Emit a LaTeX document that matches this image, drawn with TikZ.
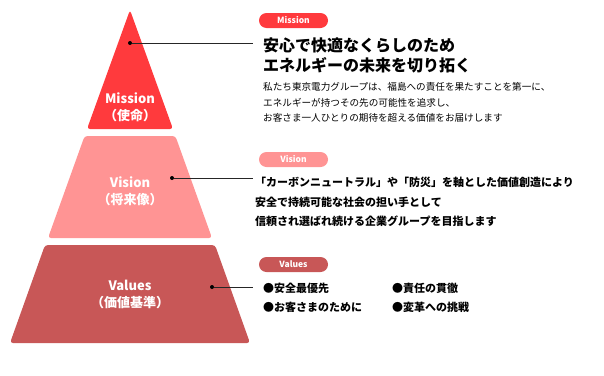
\documentclass[tikz,border=0pt]{standalone}
\usepackage{fontspec}
\setmainfont{Noto Sans CJK JP}
\usetikzlibrary{positioning}
\definecolor{missionred}{HTML}{FF3A3D}
\definecolor{visionpink}{HTML}{FF9494}
\definecolor{valuesred}{HTML}{C85757}
\tikzset{
  tier/.style={rounded corners=3pt},
  tierlabel/.style={text=white, font=\bfseries\fontsize{13}{17}\selectfont, align=center, inner sep=0pt},
  pill/.style={rounded corners=7.5pt, minimum width=69pt, minimum height=15pt, inner sep=0pt, text=white, font=\bfseries\fontsize{8.5}{9}\selectfont},
  dot/.style={circle, fill=black, inner sep=0pt, minimum size=4pt},
  leader/.style={line width=0.9pt, black!85},
  line/.style={anchor=west, inner sep=0pt},
}
\begin{document}
\begin{tikzpicture}[x=1pt,y=-1pt]
\useasboundingbox (0,0) rectangle (604,375);
% pyramid
\fill[missionred, tier] (87,129) -- (130,10) -- (173,129) -- cycle;
\fill[visionpink, tier] (84.6,136) -- (175.4,136) -- (212,238) -- (48,238) -- cycle;
\fill[valuesred, tier] (45,245) -- (215,245) -- (250,343) -- (10,343) -- cycle;
\node[tierlabel] (mission) at (130,107) {Mission\\（使命）};
\node[tierlabel] (vision) at (130,191) {Vision\\（将来像）};
\node[tierlabel] (values) at (130,294) {Values\\（価値基準）};
% dots and leaders
\node[dot] (mdot) at (130,43) {};
\node[dot] (vdot) at (172,178) {};
\node[dot] (udot) at (212,287) {};
\coordinate (mend) at (253,43);
\coordinate (vend) at (253,178);
\coordinate (uend) at (253,287);
\draw[leader] (mdot) -- (mend);
\draw[leader] (vdot) -- (vend);
\draw[leader] (udot) -- (uend);
% labels
\node[pill, fill=missionred] (mpill) at (293.5,20.5) {Mission};
\node[pill, fill=visionpink] (vpill) at (293.5,159.5) {Vision};
\node[pill, fill=valuesred] (upill) at (293.5,264.5) {Values};
% mission text
\begin{scope}[font=\bfseries\fontsize{16}{18}\selectfont]
\node[line] (m1) at (263,45) {安心で快適なくらしのため};
\node[line] (m2) at (263,65) {エネルギーの未来を切り拓く};
\end{scope}
\begin{scope}[font=\fontsize{9.6}{11}\selectfont]
\node[line] (m3) at (263,87) {私たち東京電力グループは、福島への責任を果たすことを第一に、};
\node[line] (m4) at (263,102.5) {エネルギーが持つその先の可能性を追求し、};
\node[line] (m5) at (263,118) {お客さま一人ひとりの期待を超える価値をお届けします};
\end{scope}
% vision text
\begin{scope}[font=\bfseries\fontsize{11}{13}\selectfont]
\node[line] (v1) at (255,182) {「カーボンニュートラル」や「防災」を軸とした価値創造により};
\node[line] (v2) at (255,202) {安全で持続可能な社会の担い手として};
\node[line] (v3) at (255,221) {信頼され選ばれ続ける企業グループを目指します};
\end{scope}
% values text
\begin{scope}[font=\bfseries\fontsize{11}{13}\selectfont]
\node[line] (u1) at (263,288) {●安全最優先};
\node[line] (u2) at (263,307) {●お客さまのために};
\node[line] (u3) at (392,288) {●責任の貫徹};
\node[line] (u4) at (392,307) {●変革への挑戦};
\end{scope}
\end{tikzpicture}
\end{document}
